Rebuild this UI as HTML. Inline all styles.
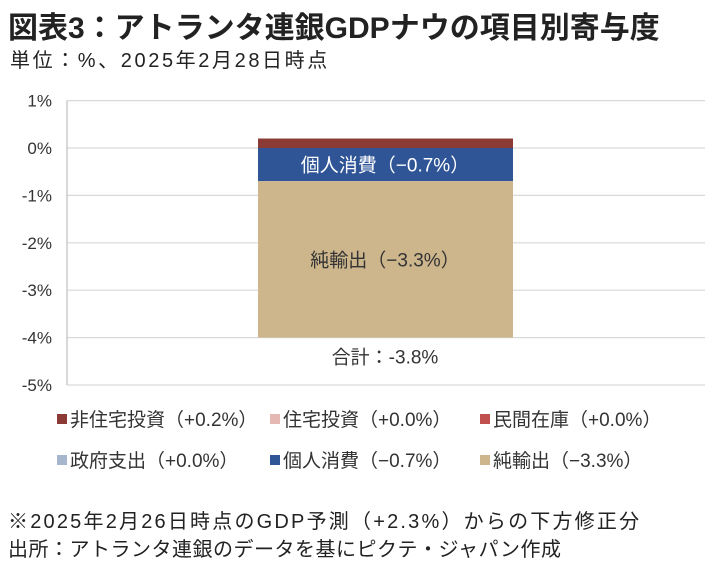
<!DOCTYPE html>
<html><head><meta charset="utf-8"><style>
body{margin:0;background:#fff;width:720px;height:577px;overflow:hidden;font-family:"Liberation Sans","Noto Sans CJK JP",sans-serif;color:#222}
.t{position:absolute;white-space:nowrap}
</style></head><body>
<div class="t" style="left:8px;top:3px;font-size:30px;font-weight:bold;letter-spacing:0px">図表3：アトランタ連銀GDPナウの項目別寄与度</div>
<div class="t" style="left:10px;top:44px;font-size:20px;letter-spacing:2.6px">単位：%、2025年2月28日時点</div>
<svg id="c" width="720" height="577" style="position:absolute;left:0;top:0"></svg>
<div class="t" style="left:8px;top:505px;font-size:20px;letter-spacing:2.2px">※2025年2月26日時点のGDP予測（+2.3%）からの下方修正分</div>
<div class="t" style="left:8px;top:533px;font-size:20px;letter-spacing:0.5px">出所：アトランタ連銀のデータを基にピクテ・ジャパン作成</div>
<script>
const categories=["非住宅投資","住宅投資","民間在庫","政府支出","個人消費","純輸出"];
const values=[0.2,0.0,0.0,0.0,-0.7,-3.3];
const colors=["#8b3a36","#e6b8b4","#c0504d","#a6b6cc","#2f5597","#cdb68c"];
const legendLabels=["非住宅投資(+0.2%)","住宅投資(+0.0%)","民間在庫(+0.0%)","政府支出(+0.0%)","個人消費(−0.7%)","純輸出(−3.3%)"];
const ticks=[1,0,-1,-2,-3,-4,-5];
const totalLabel="合計：-3.8%";
const NS="http://www.w3.org/2000/svg",svg=document.getElementById('c');
const y=v=>148-v*47.4;
function mk(t,a,txt){const e=document.createElementNS(NS,t);for(const k in a)e.setAttribute(k,a[k]);if(txt!=null)e.textContent=txt;svg.appendChild(e);return e;}
ticks.forEach(t=>{
 const g=mk('line',{x1:67,x2:705,y1:y(t),y2:y(t),stroke:'#d9d9d9','stroke-width':1.2});
 
 
 const l=mk('text',{x:52,y:y(t)+6,'text-anchor':'end','font-size':17,fill:'#333'},(t<0?'-':'')+Math.abs(t)+'%');
 
 
});
const ax=mk('line',{x1:67,x2:67,y1:y(1),y2:y(-5),stroke:'#bfbfbf','stroke-width':1.2});


let pos=0,neg=0;
values.forEach((v,i)=>{
 let a,b;
 if(v>=0){a=pos;b=pos+v;pos=b;}else{a=neg;b=neg+v;neg=b;}
 const top=y(Math.max(a,b)),h=Math.abs(y(a)-y(b));
 const r=mk('rect',{x:258,y:top,width:255,height:h,fill:colors[i]});
 
 
 if(Math.abs(v)>=0.5){
  const tx=mk('text',{x:385,y:top+h/2+7,'text-anchor':'middle','font-size':19,fill:i==4?'#fff':'#333'},legendLabels[i].replace('(','（').replace(')','）'));
  
  
 }
});
const tl=mk('text',{x:385,y:y(neg)+26,'text-anchor':'middle','font-size':19,fill:'#333'},totalLabel);


legendLabels.forEach((s,i)=>{
 const cx=[57,270,480][i%3],cy=i<3?419:460;
 const r=mk('rect',{x:cx,y:cy-5,width:10,height:10,fill:colors[i]});
 
 
 const t=mk('text',{x:cx+13,y:cy+7,'font-size':19,fill:'#333'},s.replace('(','（').replace(')','）'));
 
 
});
</script>
</body></html>
